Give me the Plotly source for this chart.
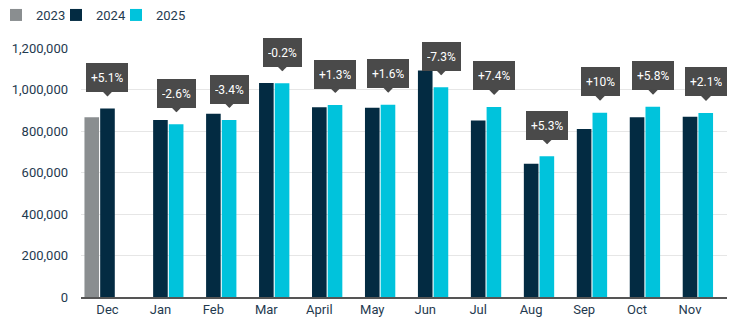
import plotly.graph_objects as go

months = ["Dec", "Jan", "Feb", "Mar", "April", "May", "Jun", "Jul", "Aug", "Sep", "Oct", "Nov"]
v2023 = [866000, None, None, None, None, None, None, None, None, None, None, None]
v2024 = [909000, 853000, 883000, 1031000, 914000, 912000, 1091000, 851000, 642000, 810000, 866000, 869000]
v2025 = [None, 832000, 853000, 1030000, 925000, 927000, 1011000, 916000, 678000, 888000, 917000, 887000]
pct_labels = ["+5.1%", "-2.6%", "-3.4%", "-0.2%", "+1.3%", "+1.6%", "-7.3%", "+7.4%", "+5.3%", "+10%", "+5.8%", "+2.1%"]
y_ticks = [0, 200000, 400000, 600000, 800000, 1000000, 1200000]

W, H = 733, 323
ML, MR, MT, MB = 81, 6, 48, 26
BARGAP = 0.11

c2023 = "#8a8e90"
c2024 = "#032b42"
c2025 = "#00c3dc"
txt = "#1f3a4f"
font = "Roboto"

plot_w = W - ML - MR
slot = plot_w / len(months) * (1 - BARGAP) / 3

fig = go.Figure()
legend_names = ["legend", "legend2", "legend3"]
for k, (name, vals, col) in enumerate([("2023", v2023, c2023), ("2024", v2024, c2024), ("2025", v2025, c2025)]):
    fig.add_trace(go.Bar(x=months, y=vals, name=name, marker=dict(color=col, line=dict(width=0)),
                         hoverinfo="skip", legend=legend_names[k]))

for i, m in enumerate(months):
    if v2025[i] is not None:
        yv, xs = v2025[i], slot
    else:
        yv, xs = v2024[i], 0
    fig.add_annotation(
        x=m, y=yv, xref="x", yref="y", xshift=xs,
        text=pct_labels[i], showarrow=True, ax=0, ay=-31,
        arrowhead=1, arrowsize=0.9, arrowwidth=2, arrowcolor="#4a4a4a",
        standoff=12, height=19,
        bgcolor="#4a4a4a", bordercolor="#4a4a4a", borderwidth=1, borderpad=4,
        font=dict(family=font, size=12, color="white"),
    )

legend_common = dict(orientation="h", xref="paper", yref="container", y=1,
                     xanchor="left", yanchor="top", font=dict(family=font, size=13, color=txt),
                     itemclick=False, bgcolor="rgba(0,0,0,0)")
legends = {}
for k, ln in enumerate(legend_names):
    legends[ln] = dict(legend_common, x=(-ML - 4 + 60 * k) / plot_w)

fig.update_layout(
    width=W, height=H,
    margin=dict(l=ML, r=MR, t=MT, b=MB, pad=0, autoexpand=False),
    paper_bgcolor="white", plot_bgcolor="white",
    barmode="group", bargap=BARGAP, bargroupgap=0.07,
    font=dict(family=font, size=13, color=txt),
    showlegend=True,
    **legends,
    xaxis=dict(showgrid=False, showline=True, linecolor="#555555", linewidth=1.5,
               ticks="", tickfont=dict(family=font, size=13, color=txt), fixedrange=True),
    yaxis=dict(range=[0, 1200000], tickvals=y_ticks, tickformat=",d", showgrid=True,
               gridcolor="#e6e6e6", gridwidth=1, zeroline=False, showline=False,
               ticks="", ticklabelstandoff=12, tickfont=dict(family=font, size=13, color=txt),
               fixedrange=True),
)

fig.write_html("out.html", config={"displayModeBar": False})
